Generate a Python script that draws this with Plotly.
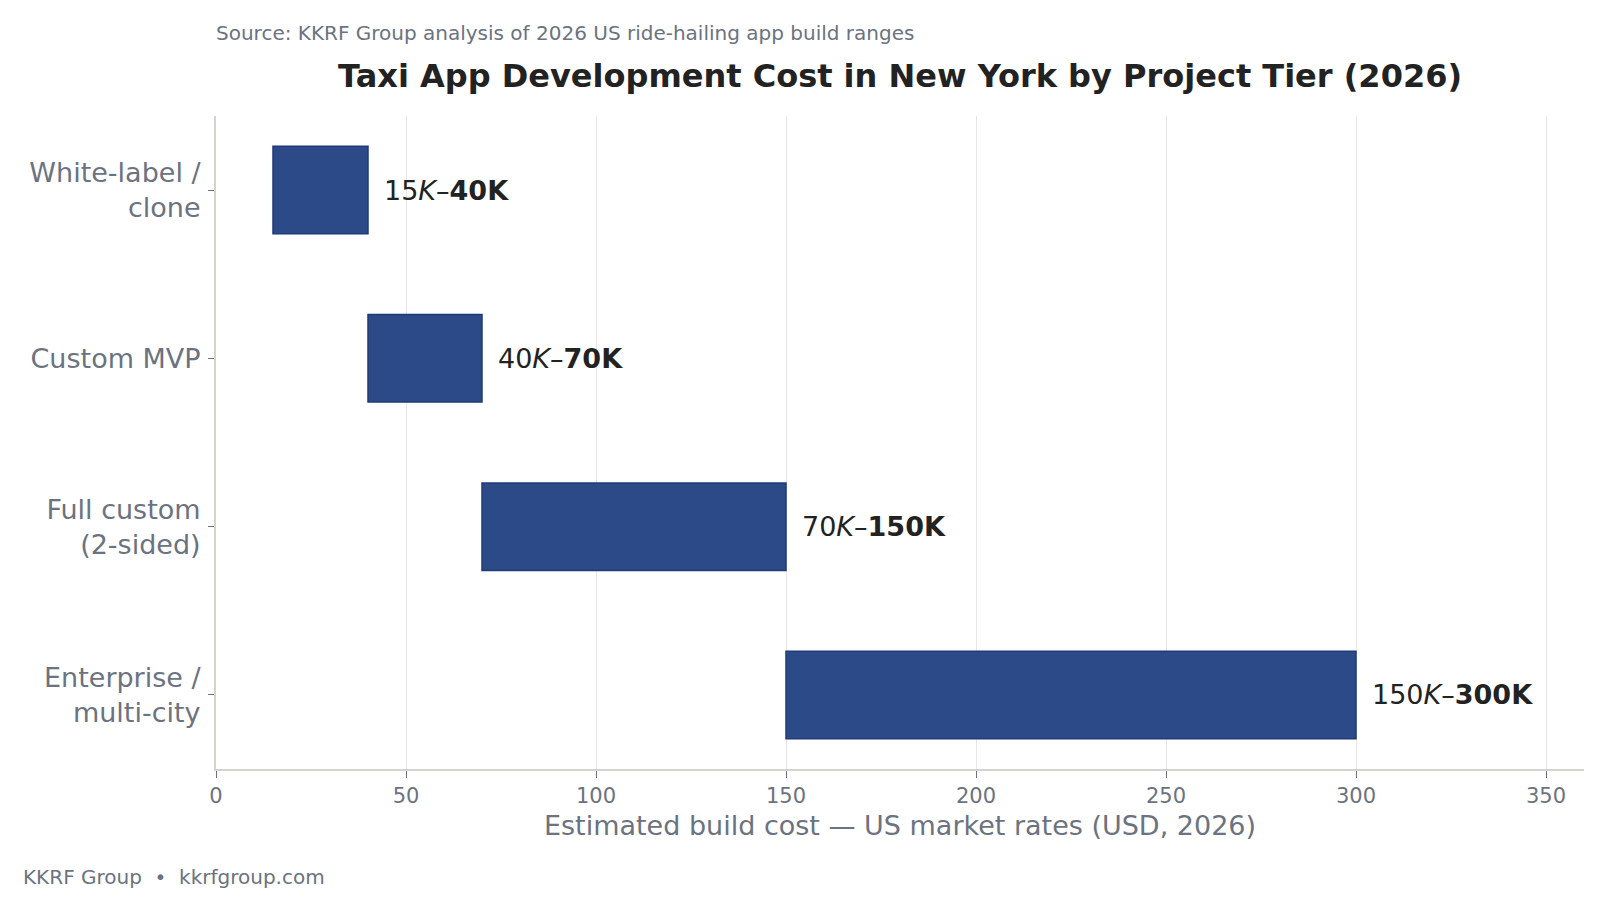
import plotly.graph_objects as go

tiers = ["White-label /<br>clone", "Custom MVP", "Full custom<br>(2-sided)", "Enterprise /<br>multi-city"]
low_k = [15, 40, 70, 150]
high_k = [40, 70, 150, 300]
x_ticks = [0, 50, 100, 150, 200, 250, 300, 350]

FONT = "DejaVu Sans"
GRAY = "#6b7280"
DARK = "#222222"
BAR = "#2c4a87"
EDGE = "#1e3a78"

fig = go.Figure()
fig.add_trace(go.Bar(
    y=tiers,
    x=[h - l for l, h in zip(low_k, high_k)],
    base=low_k,
    orientation="h",
    width=0.52,
    marker=dict(color=BAR, line=dict(color=EDGE, width=1.5)),
    hoverinfo="skip",
))

for t, l, h in zip(tiers, low_k, high_k):
    fig.add_annotation(
        x=h, y=t, xref="x", yref="y",
        text=f"{l}<i>K</i>–<b>{h}K</b>",
        showarrow=False, xanchor="left", yanchor="middle", xshift=14,
        font=dict(family=FONT, size=27, color=DARK),
    )

fig.add_annotation(
    x=0, y=1, xref="paper", yref="paper",
    text="Source: KKRF Group analysis of 2026 US ride-hailing app build ranges",
    showarrow=False, xanchor="left", yanchor="middle", xshift=-2, yshift=(116 - 33),
    font=dict(family=FONT, size=20, color=GRAY),
)
fig.add_annotation(
    x=0, y=0, xref="paper", yref="paper", text="KKRF Group  •  kkrfgroup.com",
    showarrow=False, xanchor="left", yanchor="middle",
    xshift=-(216 - 21), yshift=-(877 - 769),
    font=dict(family=FONT, size=20, color=GRAY),
)

fig.update_layout(
    width=1608, height=910,
    margin=dict(l=216, r=24, t=116, b=141),
    paper_bgcolor="white", plot_bgcolor="white",
    showlegend=False,
    font=dict(family=FONT, color=GRAY),
    title=dict(
        text="<b>Taxi App Development Cost in New York by Project Tier (2026)</b>",
        x=0.5, xanchor="center", xref="paper",
        y=1 - 76 / 910, yanchor="middle", yref="container",
        font=dict(family=FONT, size=32, color=DARK),
    ),
    xaxis=dict(
        range=[0, 360], tickvals=x_ticks, ticktext=[str(v) for v in x_ticks],
        showgrid=True, gridcolor="#e6e6e6", gridwidth=1.2,
        showline=True, linecolor="#d6d2ce", linewidth=2,
        ticks="outside", ticklen=7, tickcolor=GRAY, tickwidth=1,
        tickfont=dict(family=FONT, size=21, color=GRAY),
        zeroline=False,
        title=dict(text="Estimated build cost — US market rates (USD, 2026)",
                   font=dict(family=FONT, size=27, color=GRAY), standoff=9),
    ),
    yaxis=dict(
        autorange=False, range=[3.44, -0.44],
        categoryorder="array", categoryarray=tiers,
        showgrid=False, showline=True, linecolor="#d6d2ce", linewidth=2,
        ticks="outside", ticklen=6, tickcolor=GRAY, tickwidth=1,
        ticklabelstandoff=2,
        tickfont=dict(family=FONT, size=27, color=GRAY),
        zeroline=False,
    ),
)

fig.write_html("out.html")
